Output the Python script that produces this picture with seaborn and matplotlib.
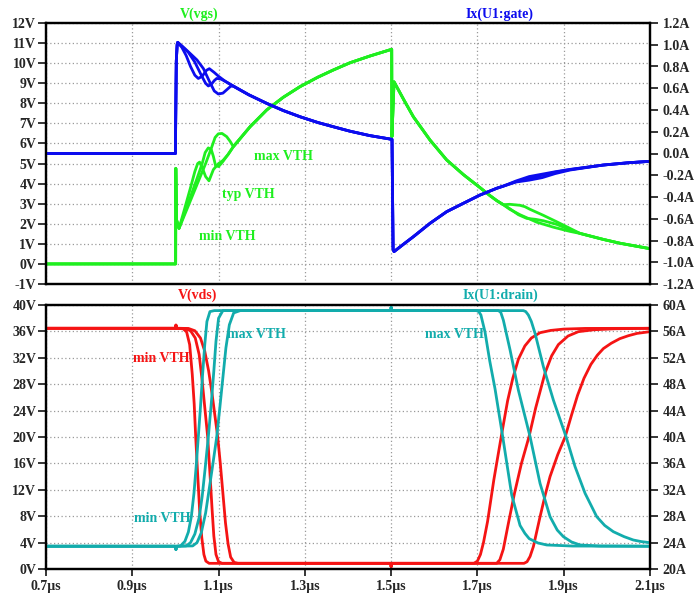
import numpy as np
import pandas as pd
import matplotlib
matplotlib.use("Agg")
import matplotlib.pyplot as plt
import seaborn as sns

# ---------------- DATA (time in µs) ----------------
# Top panel: V(vgs) [V, left axis]
VGS_PRE_T = [0.7, 1.0, 1.0005, 1.0008, 1.0025, 1.0083]
VGS_PRE_V = [0.0, 0.0, 0.0, 4.76, 2.2, 1.77]
VGS_RING_MIN_T = [1.02, 1.035, 1.045, 1.0516, 1.056, 1.062, 1.07, 1.0778, 1.088, 1.1, 1.11, 1.122]
VGS_RING_MIN_V = [2.65, 3.8, 4.6, 5.0, 5.07, 4.8, 4.35, 4.14, 4.7, 5.0, 5.15, 5.45]
VGS_RING_TYP_T = [1.03, 1.05, 1.062, 1.069, 1.0762, 1.083, 1.088, 1.093, 1.1, 1.11, 1.122]
VGS_RING_TYP_V = [3.05, 4.25, 5.0, 5.55, 5.78, 5.7, 5.35, 4.9, 4.85, 5.1, 5.45]
VGS_RING_MAX_T = [1.03, 1.05, 1.07, 1.083, 1.092, 1.0994, 1.108, 1.1188, 1.127]
VGS_RING_MAX_V = [2.9, 3.95, 5.0, 5.75, 6.3, 6.48, 6.5, 6.34, 6.1]
VGS_MID_T = [1.1342, 1.1729, 1.2116, 1.25, 1.2888, 1.33, 1.366, 1.4047, 1.45, 1.5013,
             1.5018, 1.5067, 1.53, 1.5515, 1.5901, 1.6287, 1.6674, 1.706, 1.7292, 1.745, 1.76]
VGS_MID_V = [5.84, 6.83, 7.67, 8.3, 8.83, 9.3, 9.66, 10.02, 10.35, 10.69,
             6.34, 9.07, 8.15, 7.33, 6.17, 5.18, 4.45, 3.8, 3.4, 3.15, 2.95]
VGS_TAIL_MAX_T = [1.775, 1.7987, 1.81, 1.8219, 1.8528, 1.8837, 1.9146]
VGS_TAIL_MAX_V = [2.97, 2.92, 2.85, 2.72, 2.42, 2.10, 1.77]
VGS_TAIL_TYP_T = [1.775, 1.795, 1.8141, 1.835, 1.8528, 1.8837, 1.9146]
VGS_TAIL_TYP_V = [2.75, 2.45, 2.27, 2.22, 2.15, 1.97, 1.70]
VGS_TAIL_MIN_T = [1.775, 1.7987, 1.8373, 1.876, 1.9146]
VGS_TAIL_MIN_V = [2.72, 2.45, 2.08, 1.83, 1.62]
VGS_END_T = [1.9378, 1.9919, 2.0305, 2.1]
VGS_END_V = [1.52, 1.22, 1.03, 0.76]

# Top panel: Ix(U1:gate) [A, right axis]
IG_PRE_T = [0.7, 1.0, 1.0006, 1.002, 1.004, 1.0053]
IG_PRE_V = [0.0, 0.0, 0.3, 0.85, 1.0, 1.022]
IG_RING_MIN_T = [1.015, 1.025, 1.035, 1.045, 1.053, 1.062, 1.072, 1.0786, 1.09, 1.1, 1.115]
IG_RING_MIN_V = [0.975, 0.90, 0.80, 0.72, 0.69, 0.71, 0.765, 0.78, 0.745, 0.71, 0.665]
IG_RING_TYP_T = [1.015, 1.03, 1.045, 1.06, 1.07, 1.0762, 1.083, 1.09, 1.0956, 1.105, 1.115]
IG_RING_TYP_V = [0.985, 0.93, 0.84, 0.72, 0.645, 0.621, 0.635, 0.67, 0.69, 0.685, 0.665]
IG_RING_MAX_T = [1.015, 1.03, 1.05, 1.065, 1.078, 1.09, 1.0994, 1.11, 1.12, 1.128]
IG_RING_MAX_V = [0.99, 0.935, 0.86, 0.78, 0.67, 0.575, 0.547, 0.555, 0.59, 0.618]
IG_MID_T = [1.134, 1.17, 1.2116, 1.25, 1.2888, 1.33, 1.366, 1.4047, 1.45, 1.502,
            1.5045, 1.5067, 1.53, 1.5515, 1.5901, 1.6287, 1.6674, 1.706, 1.7446, 1.76]
IG_MID_V = [0.62, 0.54, 0.461, 0.395, 0.338, 0.285, 0.246, 0.205, 0.165, 0.13,
            -0.88, -0.902, -0.83, -0.765, -0.642, -0.535, -0.458, -0.382, -0.32, -0.30]
IG_TAIL_T = [1.79, 1.82, 1.85, 1.88, 1.9146]
IG_TAIL_MIN_V = [-0.252, -0.212, -0.19, -0.168, -0.146]
IG_TAIL_TYP_V = [-0.258, -0.232, -0.20, -0.172, -0.148]
IG_TAIL_MAX_V = [-0.262, -0.245, -0.222, -0.185, -0.152]
IG_END_T = [1.9919, 2.05, 2.1]
IG_END_V = [-0.106, -0.085, -0.072]

# Bottom panel: V(vds) [V, left axis]
VDS_PRE_T = [0.7, 1.0, 1.0012, 1.0025]
VDS_PRE_V = [36.47, 36.47, 36.95, 36.47]
VDS_FALL_MIN_T = [1.018, 1.026, 1.033, 1.039, 1.0435, 1.047, 1.051, 1.056, 1.061, 1.066, 1.0705, 1.078]
VDS_FALL_MIN_V = [36.4, 35.9, 34.0, 29.5, 25.0, 20.0, 15.0, 9.0, 4.8, 2.2, 1.2, 0.86]
VDS_FALL_TYP_T = [1.022, 1.035, 1.046, 1.055, 1.062, 1.068, 1.0748, 1.08, 1.085, 1.089, 1.094, 1.1, 1.108]
VDS_FALL_TYP_V = [36.45, 36.1, 35.0, 32.5, 28.5, 24.5, 20.0, 14.5, 9.0, 5.0, 2.2, 1.1, 0.86]
VDS_FALL_MAX_T = [1.03, 1.045, 1.058, 1.068, 1.077, 1.085, 1.092, 1.098, 1.104, 1.11, 1.116, 1.122, 1.128, 1.136, 1.145]
VDS_FALL_MAX_V = [36.45, 36.1, 35.0, 33.0, 30.0, 26.5, 23.0, 20.0, 16.0, 11.5, 7.0, 3.8, 1.8, 1.0, 0.86]
VDS_LOW_T = [1.4995, 1.5, 1.5008]
VDS_LOW_V = [0.86, 0.35, 0.86]
VDS_RISE_MIN_T = [1.692, 1.700, 1.707, 1.714, 1.7235, 1.738, 1.755, 1.77, 1.782, 1.795, 1.81,
                  1.825, 1.845, 1.87, 1.9, 1.95, 2.1]
VDS_RISE_MIN_V = [0.86, 1.2, 2.2, 4.0, 7.2, 13.5, 20.0, 25.5, 28.9, 31.8, 33.8,
                  35.0, 35.8, 36.15, 36.35, 36.45, 36.47]
VDS_RISE_TYP_T = [1.7447, 1.752, 1.76, 1.7717, 1.786, 1.802, 1.8196, 1.835, 1.8567, 1.872,
                  1.8876, 1.91, 1.934, 1.97, 2.02, 2.1]
VDS_RISE_TYP_V = [0.86, 1.4, 3.0, 6.9, 11.5, 16.0, 20.05, 24.4, 29.7, 32.3,
                  34.0, 35.3, 35.96, 36.25, 36.4, 36.47]
VDS_RISE_MAX_T = [1.808, 1.815, 1.822, 1.8297, 1.8451, 1.857, 1.8683, 1.886, 1.9035, 1.918,
                  1.932, 1.947, 1.963, 1.978, 1.992, 2.01, 2.03, 2.05, 2.07, 2.1]
VDS_RISE_MAX_V = [0.86, 1.1, 1.9, 3.4, 7.9, 11.2, 14.0, 17.3, 20.05, 23.3,
                  26.3, 28.9, 31.0, 32.4, 33.4, 34.2, 34.9, 35.35, 35.7, 35.96]

# Bottom panel: Ix(U1:drain) [A, right axis]
ID_PRE_T = [0.7, 1.0, 1.0012, 1.0025]
ID_PRE_V = [23.45, 23.45, 22.95, 23.45]
ID_RISE_MIN_T = [1.012, 1.022, 1.03, 1.037, 1.043, 1.048, 1.053, 1.058, 1.063, 1.068, 1.073, 1.08, 1.09]
ID_RISE_MIN_V = [23.5, 24.2, 25.6, 28.0, 31.5, 35.5, 40.0, 44.5, 49.5, 54.0, 57.5, 59.0, 59.15]
ID_RISE_TYP_T = [1.025, 1.035, 1.045, 1.055, 1.062, 1.069, 1.0762, 1.083, 1.089, 1.094, 1.1, 1.11]
ID_RISE_TYP_V = [23.5, 24.0, 25.3, 27.8, 31.0, 35.3, 40.0, 45.0, 50.0, 54.5, 58.0, 59.15]
ID_RISE_MAX_T = [1.04, 1.05, 1.06, 1.07, 1.078, 1.087, 1.0957, 1.103, 1.11, 1.117, 1.125, 1.135, 1.15]
ID_RISE_MAX_V = [23.5, 24.0, 25.5, 28.5, 32.0, 36.0, 40.0, 44.5, 49.0, 53.5, 57.0, 58.8, 59.15]
ID_HIGH_T = [1.4995, 1.5, 1.5008]
ID_HIGH_V = [59.15, 59.65, 59.15]
ID_FALL_MIN_T = [1.698, 1.703, 1.708, 1.7176, 1.7286, 1.7408, 1.7586, 1.7795, 1.7988, 1.81,
                 1.82, 1.84, 1.8606, 1.92, 2.1]
ID_FALL_MIN_V = [59.15, 59.0, 58.5, 55.9, 51.5, 47.3, 40.05, 31.2, 26.6, 25.4,
                 24.6, 23.95, 23.64, 23.48, 23.45]
ID_FALL_TYP_T = [1.7486, 1.754, 1.7601, 1.7756, 1.7949, 1.822, 1.8451, 1.8683, 1.885, 1.8992,
                 1.918, 1.9379, 1.9842, 2.1]
ID_FALL_TYP_V = [59.15, 58.9, 57.7, 53.2, 47.1, 40.05, 32.98, 27.93, 25.9, 24.9,
                 24.1, 23.64, 23.48, 23.45]
ID_FALL_MAX_T = [1.8065, 1.812, 1.8181, 1.825, 1.8336, 1.8529, 1.876, 1.9054, 1.9263, 1.9495,
                 1.9765, 1.995, 2.0151, 2.04, 2.0615, 2.08, 2.1]
ID_FALL_MAX_V = [59.15, 59.0, 58.48, 57.5, 55.7, 50.65, 45.6, 40.05, 35.5, 31.47,
                 27.93, 26.6, 25.65, 24.9, 24.39, 24.15, 23.99]

# Ticks
X_TICKS = [0.7, 0.9, 1.1, 1.3, 1.5, 1.7, 1.9, 2.1]
X_LABELS = ["0.7µs", "0.9µs", "1.1µs", "1.3µs", "1.5µs", "1.7µs", "1.9µs", "2.1µs"]
VGS_TICKS = [-1, 0, 1, 2, 3, 4, 5, 6, 7, 8, 9, 10, 11, 12]
VGS_LABELS = ["-1V", "0V", "1V", "2V", "3V", "4V", "5V", "6V", "7V", "8V", "9V", "10V", "11V", "12V"]
IG_TICKS = [-1.2, -1.0, -0.8, -0.6, -0.4, -0.2, 0.0, 0.2, 0.4, 0.6, 0.8, 1.0, 1.2]
IG_LABELS = ["-1.2A", "-1.0A", "-0.8A", "-0.6A", "-0.4A", "-0.2A", "0.0A", "0.2A", "0.4A",
             "0.6A", "0.8A", "1.0A", "1.2A"]
VDS_TICKS = [0, 4, 8, 12, 16, 20, 24, 28, 32, 36, 40]
VDS_LABELS = ["0V", "4V", "8V", "12V", "16V", "20V", "24V", "28V", "32V", "36V", "40V"]
ID_TICKS = [20, 24, 28, 32, 36, 40, 44, 48, 52, 56, 60]
ID_LABELS = ["20A", "24A", "28A", "32A", "36A", "40A", "44A", "48A", "52A", "56A", "60A"]

# ---------------- STYLE ----------------
sns.set_theme(style="white")
plt.rcParams['font.family'] = ['Liberation Serif', 'DejaVu Serif']
plt.rcParams['font.weight'] = 'bold'

GREEN = '#1fef1f'
BLUE = '#0c0cee'
RED = '#f51414'
CYAN = '#12acac'
LW = 2.0
FS = 10


def join(*parts):
    t, v = [], []
    for i in range(0, len(parts), 2):
        t += list(parts[i])
        v += list(parts[i + 1])
    return pd.DataFrame({"t": t, "v": v})


def draw(ax, df, color):
    sns.lineplot(data=df, x="t", y="v", ax=ax, color=color, lw=LW, sort=False,
                 estimator=None, legend=False, solid_joinstyle='round',
                 solid_capstyle='round')


W, H = 695, 595
fig = plt.figure(figsize=(W / 100, H / 100), dpi=100)
ax1 = fig.add_axes([46 / W, 1 - 284 / H, 604 / W, 261 / H])
ax1r = ax1.twinx()
ax2 = fig.add_axes([46 / W, 1 - 569 / H, 604 / W, 264 / H])
ax2r = ax2.twinx()

# top panel traces
for ring_t, ring_v, tail_t, tail_v in [
        (VGS_RING_MIN_T, VGS_RING_MIN_V, VGS_TAIL_MIN_T, VGS_TAIL_MIN_V),
        (VGS_RING_TYP_T, VGS_RING_TYP_V, VGS_TAIL_TYP_T, VGS_TAIL_TYP_V),
        (VGS_RING_MAX_T, VGS_RING_MAX_V, VGS_TAIL_MAX_T, VGS_TAIL_MAX_V)]:
    draw(ax1, join(VGS_PRE_T, VGS_PRE_V, ring_t, ring_v, VGS_MID_T, VGS_MID_V,
                   tail_t, tail_v, VGS_END_T, VGS_END_V), GREEN)

for ring_t, ring_v, tail_v in [
        (IG_RING_MIN_T, IG_RING_MIN_V, IG_TAIL_MIN_V),
        (IG_RING_TYP_T, IG_RING_TYP_V, IG_TAIL_TYP_V),
        (IG_RING_MAX_T, IG_RING_MAX_V, IG_TAIL_MAX_V)]:
    draw(ax1r, join(IG_PRE_T, IG_PRE_V, ring_t, ring_v, IG_MID_T, IG_MID_V,
                    IG_TAIL_T, tail_v, IG_END_T, IG_END_V), BLUE)

# bottom panel traces
for ft, fv, rt, rv in [
        (VDS_FALL_MIN_T, VDS_FALL_MIN_V, VDS_RISE_MIN_T, VDS_RISE_MIN_V),
        (VDS_FALL_TYP_T, VDS_FALL_TYP_V, VDS_RISE_TYP_T, VDS_RISE_TYP_V),
        (VDS_FALL_MAX_T, VDS_FALL_MAX_V, VDS_RISE_MAX_T, VDS_RISE_MAX_V)]:
    draw(ax2, join(VDS_PRE_T, VDS_PRE_V, ft, fv, VDS_LOW_T, VDS_LOW_V, rt, rv), RED)

for rt, rv, ft, fv in [
        (ID_RISE_MIN_T, ID_RISE_MIN_V, ID_FALL_MIN_T, ID_FALL_MIN_V),
        (ID_RISE_TYP_T, ID_RISE_TYP_V, ID_FALL_TYP_T, ID_FALL_TYP_V),
        (ID_RISE_MAX_T, ID_RISE_MAX_V, ID_FALL_MAX_T, ID_FALL_MAX_V)]:
    draw(ax2r, join(ID_PRE_T, ID_PRE_V, rt, rv, ID_HIGH_T, ID_HIGH_V, ft, fv), CYAN)

# ---------------- AXES ----------------
def style_pair(ax, axr, lticks, llabels, rticks, rlabels, xlabels):
    ax.set_xlim(0.7, 2.1)
    ax.set_ylim(lticks[0], lticks[-1])
    axr.set_ylim(rticks[0], rticks[-1])
    ax.set_xticks(X_TICKS)
    if xlabels:
        ax.set_xticklabels(X_LABELS, fontsize=FS, fontweight='bold')
        ax.tick_params(axis='x', length=5, width=1.3, pad=3, direction='out', bottom=True)
    else:
        ax.set_xticklabels([])
        ax.tick_params(axis='x', length=0)
    ax.set_yticks(lticks)
    ax.set_yticklabels(llabels, fontsize=FS, fontweight='bold')
    axr.set_yticks(rticks)
    axr.set_yticklabels(rlabels, fontsize=FS, fontweight='bold')
    ax.tick_params(axis='y', length=6, width=1.3, pad=1, direction='out', left=True)
    axr.tick_params(axis='y', length=6, width=1.3, pad=3, direction='out', right=True)
    ax.set_xlabel("")
    ax.set_ylabel("")
    axr.set_ylabel("")
    axr.set_xlabel("")
    ax.grid(True, color='#9a9a9a', lw=0.9, linestyle=(0, (1, 2)))
    axr.grid(False)
    ax.set_axisbelow(True)
    for a in (ax, axr):
        for s in a.spines.values():
            s.set_color('black')
            s.set_linewidth(1.6)


style_pair(ax1, ax1r, VGS_TICKS, VGS_LABELS, IG_TICKS, IG_LABELS, False)
style_pair(ax2, ax2r, VDS_TICKS, VDS_LABELS, ID_TICKS, ID_LABELS, True)


def label(x, y, s, color):
    fig.text(x / W, 1 - y / H, s, color=color, fontsize=FS, fontweight='bold',
             ha='center', va='center')


label(199, 14, "V(vgs)", GREEN)
label(500, 14, "Ix(U1:gate)", BLUE)
label(283, 157, "max VTH", GREEN)
label(248, 195, "typ VTH", GREEN)
label(227, 237, "min VTH", GREEN)
label(198, 295, "V(vds)", RED)
label(500, 295, "Ix(U1:drain)", CYAN)
label(161, 358, "min VTH", RED)
label(256, 334, "max VTH", CYAN)
label(162, 519, "min VTH", CYAN)
label(454, 334, "max VTH", CYAN)

fig.savefig("out.png", dpi=100)
